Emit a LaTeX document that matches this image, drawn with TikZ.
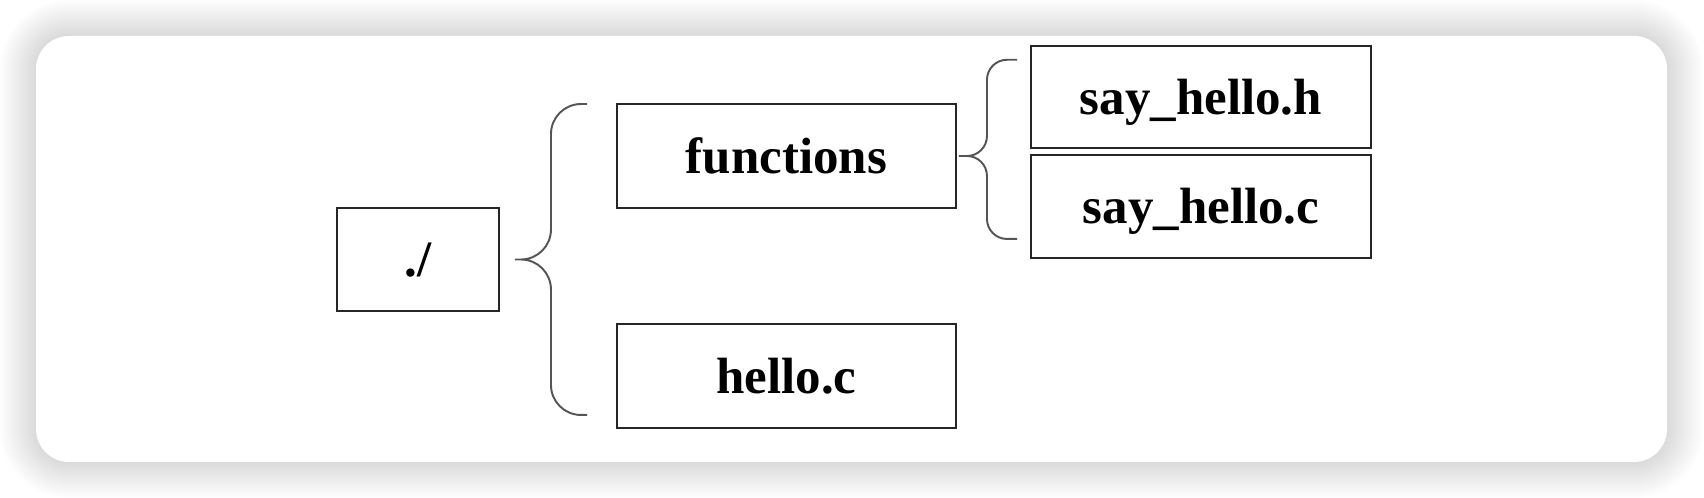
\documentclass[tikz,border=0pt]{standalone}
\usepackage{fontspec}
\setmainfont{Liberation Serif}
\usetikzlibrary{calc}
\definecolor{boxline}{RGB}{38,38,38}
\definecolor{bracegray}{RGB}{85,85,85}
\tikzset{
    filebox/.style={rectangle, draw=boxline, line width=1.1pt, inner sep=0pt, text height=19.7pt, text depth=0pt, font=\fontsize{29}{35}\selectfont\bfseries},
    dirbrace/.style={draw=bracegray, line width=1.1pt}
}

\begin{document}
\begin{tikzpicture}
    % Page and card
    \fill[white] (0,0) rectangle (34.08,9.96);
    \useasboundingbox (0,0) rectangle (34.08,9.96);
    \foreach \i [evaluate=\i as \g using 0.04*\i] in {1,...,18}
        \fill[black, opacity=0.008, rounded corners=0.66cm+\g cm] (0.72-\g,0.72-\g) rectangle (33.34+\g,9.24+\g);
    \fill[white, rounded corners=0.66cm] (0.72,0.72) rectangle (33.34,9.24);

    % Root folder
    \node[filebox, minimum width=3.24cm, minimum height=2.06cm] (root) at (8.36,4.77) {./};

    % Second level
    \node[filebox, minimum width=6.78cm, minimum height=2.08cm] (functions) at (15.73,6.84) {functions};
    \node[filebox, minimum width=6.78cm, minimum height=2.08cm] (helloc) at (15.73,2.44) {hello.c};

    % Inside functions
    \node[filebox, minimum width=6.8cm, minimum height=2.05cm] (sayhelloh) at (24.02,8.02) {say\_hello.h};
    \node[filebox, minimum width=6.8cm, minimum height=2.06cm] (sayhelloc) at (24.02,5.83) {say\_hello.c};

    % Brace from root
    \coordinate (btip) at ($(root.east)+(0.3,0)$);
    \coordinate (bmid) at ($(btip)+(0.72,0)$);
    \coordinate (btop) at ($(functions.north west)+(-0.58,-0.02)$);
    \coordinate (bbot) at ($(helloc.south west)+(-0.58,0.28)$);
    \draw[dirbrace, rounded corners=0.6cm] (btop) -| (bmid) -- (btip) (btip) -- (bmid) |- (bbot);

    % Brace from functions
    \coordinate (stip) at ($(functions.east)+(0.04,0)$);
    \coordinate (smid) at ($(stip)+(0.56,0)$);
    \coordinate (stop) at ($(sayhelloh.north west)+(-0.26,-0.3)$);
    \coordinate (sbot) at ($(sayhelloc.south west)+(-0.26,0.4)$);
    \draw[dirbrace, rounded corners=0.4cm] (stop) -| (smid) -- (stip) (stip) -- (smid) |- (sbot);
\end{tikzpicture}
\end{document}
